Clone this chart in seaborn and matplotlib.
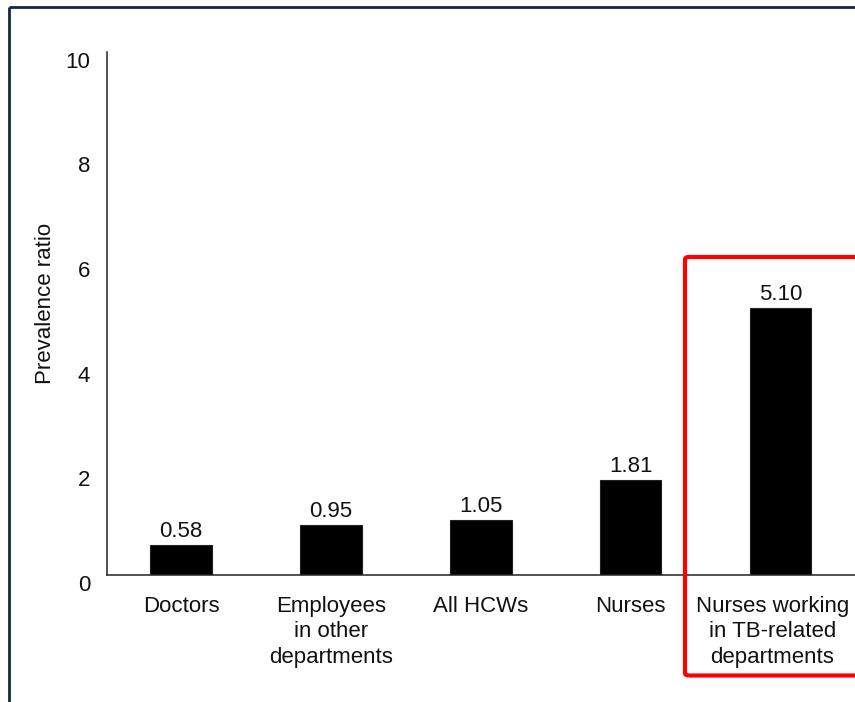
import matplotlib
matplotlib.use("Agg")
import matplotlib.pyplot as plt
from matplotlib.lines import Line2D
from matplotlib.patches import FancyBboxPatch
from matplotlib.transforms import ScaledTranslation
import seaborn as sns
import pandas as pd

# Prevalence ratio by staff group
categories = [
    "Doctors",
    "Employees\nin other\ndepartments",
    "All HCWs",
    "Nurses",
    "Nurses working\nin TB-related\ndepartments",
]
prevalence_ratio = [0.58, 0.95, 1.05, 1.81, 5.10]
y_ticks = [0, 2, 4, 6, 8, 10]

sns.set_style("white")
plt.rcParams["font.family"] = ["Liberation Sans", "DejaVu Sans"]
FS = 16

df = pd.DataFrame({"group": categories, "ratio": prevalence_ratio})

fig = plt.figure(figsize=(8.55, 7.02), dpi=100)
ax = fig.add_axes([107 / 855, 1 - 575 / 702, 1 - 107 / 855, (575 - 51.5) / 702])

sns.barplot(data=df, x="group", y="ratio", color="black", width=0.41,
            saturation=1, edgecolor="#222222", linewidth=0.8, ax=ax)

for cont in ax.containers:
    ax.bar_label(cont, fmt="%.2f", padding=2.0, fontsize=FS, color="#111111")

ax.set_ylim(0, 10)
ax.set_xlim(-0.4937, 4.496)
ax.set_yticks(y_ticks)
ax.set_yticklabels([str(t) for t in y_ticks])
ax.tick_params(axis="both", length=0, labelsize=FS, colors="#111111")
ax.tick_params(axis="y", pad=12)
ax.tick_params(axis="x", pad=15)
for lab in ax.get_yticklabels():
    lab.set_va("top")
for lab in ax.get_xticklabels():
    lab.set_multialignment("center")
    lab.set_linespacing(1.28)

# keep the last, widest group label inside the right edge
last = ax.get_xticklabels()[-1]
last.set_transform(last.get_transform() + ScaledTranslation(-6 / 72, 0, fig.dpi_scale_trans))

ax.set_xlabel("")
ax.set_ylabel("Prevalence ratio", fontsize=FS, color="#111111")
ax.yaxis.set_label_coords(-0.068, 0.5186)

sns.despine(ax=ax, top=True, right=True)
for side in ("left", "bottom"):
    ax.spines[side].set_color("#222222")
    ax.spines[side].set_linewidth(1.1)

# Page frame (top and left rules)
frame_col = "#15244a"
fig.add_artist(Line2D([9 / 855, 9 / 855], [0, 1 - 7 / 702], transform=fig.transFigure,
                      color=frame_col, lw=2.0, solid_capstyle="butt"))
fig.add_artist(Line2D([9 / 855, 1], [1 - 7 / 702, 1 - 7 / 702], transform=fig.transFigure,
                      color=frame_col, lw=2.0, solid_capstyle="butt"))

# Highlight box around the TB-related nurses group
x0, x1 = 685 / 855, 1.03
y0, y1 = 1 - 675.5 / 702, 1 - 257 / 702
fig.add_artist(FancyBboxPatch((x0, y0), x1 - x0, y1 - y0,
                              boxstyle="round,pad=0,rounding_size=0.004",
                              transform=fig.transFigure, fill=False,
                              edgecolor="#ff0000", linewidth=3.0, clip_on=False))

fig.savefig("out.png", dpi=100)
